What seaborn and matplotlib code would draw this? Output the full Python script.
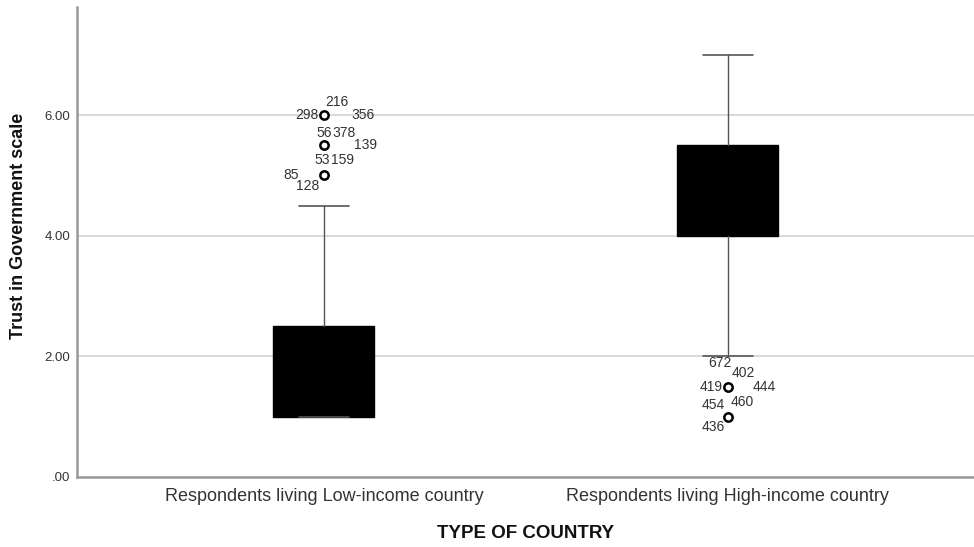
import matplotlib
matplotlib.use("Agg")
import matplotlib.pyplot as plt
import seaborn as sns
import pandas as pd

# Box summaries for each country type
categories = ["Respondents living Low-income country", "Respondents living High-income country"]
q1 = [1.0, 4.0]
median = [1.5, 5.0]
q3 = [2.5, 5.5]
whisker_low = [1.0, 2.0]
whisker_high = [4.5, 7.0]

# Outlying cases (value and case id)
outlier_group = [0, 0, 0, 0, 0, 0, 0, 0, 0, 0, 1, 1, 1, 1, 1, 1, 1]
outlier_value = [6.0, 6.0, 6.0, 5.5, 5.5, 5.5, 5.0, 5.0, 5.0, 5.0,
                 1.5, 1.5, 1.5, 1.5, 1.0, 1.0, 1.0]
outlier_id = ["216", "298", "356", "56", "378", "139", "53", "159", "85", "128",
              "672", "402", "419", "444", "454", "460", "436"]

y_ticks = [0, 2, 4, 6]
y_tick_labels = [".00", "2.00", "4.00", "6.00"]

# Label placement around each outlier marker (pixels, horizontal alignment)
label_layout = [
    (13, 13, "center"), (-5, 0, "right"), (28, 0, "left"),
    (0, 12, "center"), (20, 12, "center"), (30, 0, "left"),
    (-2, 15, "center"), (19, 15, "center"), (-25, 0, "right"), (-16, -11, "center"),
    (-8, 24, "center"), (15, 14, "center"), (-5, 0, "right"), (25, 0, "left"),
    (-15, 12, "center"), (14, 15, "center"), (-15, -10, "center"),
]

sns.set_theme(style="white")
plt.rcParams["font.family"] = ["Liberation Sans", "DejaVu Sans"]

fig = plt.figure(figsize=(9.74, 5.47), dpi=100)
ax = fig.add_axes([0.079, 0.128, 0.921, 0.859])

for y in [2, 4, 6]:
    ax.axhline(y, color="#d9d9d9", lw=1.5, zorder=0)

stats = []
for i, name in enumerate(categories):
    stats.append(dict(label=name, q1=q1[i], med=median[i], q3=q3[i],
                      whislo=whisker_low[i], whishi=whisker_high[i], fliers=[]))

ax.bxp(stats, positions=[0, 1], widths=0.25, patch_artist=True, showfliers=False,
       boxprops=dict(facecolor="black", edgecolor="black", lw=1),
       medianprops=dict(color="black", lw=1),
       whiskerprops=dict(color="#555555", lw=1),
       capprops=dict(color="#555555", lw=1.2),
       zorder=2)

out_df = pd.DataFrame({"x": outlier_group, "y": outlier_value, "id": outlier_id})
sns.scatterplot(data=out_df.drop_duplicates(["x", "y"]), x="x", y="y", ax=ax,
                marker="o", s=36, facecolor="white", edgecolor="black",
                linewidth=1.8, zorder=4, legend=False)

for (gx, gy, cid), (dx, dy, ha) in zip(zip(outlier_group, outlier_value, outlier_id), label_layout):
    ax.annotate(cid, (gx, gy), xytext=(dx, dy), textcoords="offset pixels",
                ha=ha, va="center", fontsize=10, color="#333333", zorder=5)

ax.set_xlim(-0.611, 1.609)
ax.set_ylim(0, 7.79)
ax.set_xticks([0, 1])
ax.set_xticklabels(categories, fontsize=13, color="#333333")
ax.set_yticks(y_ticks)
ax.set_yticklabels(y_tick_labels, fontsize=9.5, color="#333333")
ax.tick_params(axis="x", length=0, pad=8)
ax.tick_params(axis="y", length=0, pad=5)

ax.set_xlabel("TYPE OF COUNTRY", fontsize=13.5, fontweight="bold", color="#111111", labelpad=14)
ax.set_ylabel("Trust in Government scale", fontsize=13, fontweight="bold", color="#111111")
ax.yaxis.set_label_coords(-0.056, 0.535)

for side in ["top", "right"]:
    ax.spines[side].set_visible(False)
for side in ["left", "bottom"]:
    ax.spines[side].set_color("#999999")
    ax.spines[side].set_linewidth(1.8)

fig.savefig("out.png", dpi=100)
